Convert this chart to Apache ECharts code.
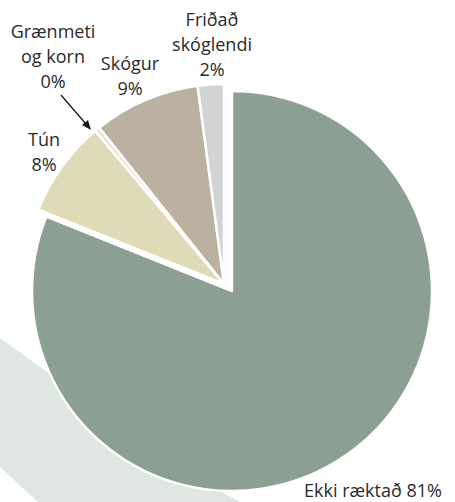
<!DOCTYPE html>
<html>
<head>
<meta charset="utf-8">
<title>Landnotkun</title>
<script src="https://cdn.jsdelivr.net/npm/echarts@6/dist/echarts.min.js"></script>
<style>
  html, body { margin: 0; padding: 0; background: #ffffff; }
  #chart { width: 455px; height: 502px; }
</style>
</head>
<body>
<div id="chart"></div>
<script>
// Land use shares, clockwise from 12 o'clock
const categories = ['Ekki ræktað', 'Tún', 'Grænmeti\nog korn', 'Skógur', 'Friðað\nskóglendi'];
const shares = [80.9, 7.8, 0.4, 8.6, 2.1];
const colors = ['#8b9f93', '#dfdab8', '#e6e2c6', '#bcb1a0', '#d1d3d5'];

// Where each label block sits (centre of the text block)
const labelSpots = [
  { x: 373, y: 490 },
  { x: 44, y: 151 },
  { x: 53, y: 56 },
  { x: 130, y: 75 },
  { x: 212, y: 44 }
];

// The large slice is pulled away from the rest; the two groups are drawn
// as two layers of the same pie with different centres.
const bigCenter = [232, 291];
const restCenter = [224, 284];

const chart = echarts.init(document.getElementById('chart'), null, { renderer: 'svg' });

function layerData(showBig) {
  return categories.map((name, i) => {
    const visible = (i === 0) === showBig;
    return {
      name: name,
      value: shares[i],
      itemStyle: visible
        ? { color: colors[i], borderColor: '#ffffff', borderWidth: 2.5 }
        : { color: 'rgba(0,0,0,0)', borderWidth: 0 },
      label: { show: visible }
    };
  });
}

const baseSeries = {
  type: 'pie',
  radius: 200,
  startAngle: 90,
  clockwise: true,
  avoidLabelOverlap: false,
  emphasis: { disabled: true },
  label: {
    position: 'outside',
    fontFamily: '"Open Sans", sans-serif',
    fontSize: 18,
    lineHeight: 25,
    color: '#2a2a2a',
    align: 'center',
    formatter: p => p.dataIndex === 0
      ? p.name + ' ' + Math.round(p.value) + '%'
      : p.name + '\n' + Math.round(p.value) + '%'
  },
  labelLine: { show: false },
  labelLayout: p => ({
    x: labelSpots[p.dataIndex].x,
    y: labelSpots[p.dataIndex].y,
    align: 'center',
    verticalAlign: 'middle'
  })
};

chart.setOption({
  animation: false,
  graphic: [
    {
      type: 'polygon',
      z: -10,
      silent: true,
      shape: { points: [[0, 338], [47, 372], [222, 492], [240, 502], [38, 502], [0, 467]] },
      style: { fill: '#e0e6e2' }
    },
    {
      type: 'line',
      z: 100,
      silent: true,
      shape: { x1: 61, y1: 95, x2: 86, y2: 124 },
      style: { stroke: '#1a1a1a', lineWidth: 1.3 }
    },
    {
      type: 'polygon',
      z: 100,
      silent: true,
      shape: { points: [[91, 130], [82, 125], [88, 120]] },
      style: { fill: '#1a1a1a' }
    }
  ],
  series: [
    Object.assign({}, baseSeries, { name: 'Ekki ræktað', center: bigCenter, data: layerData(true) }),
    Object.assign({}, baseSeries, { name: 'Ræktað og skógur', center: restCenter, data: layerData(false) })
  ]
});
</script>
</body>
</html>
